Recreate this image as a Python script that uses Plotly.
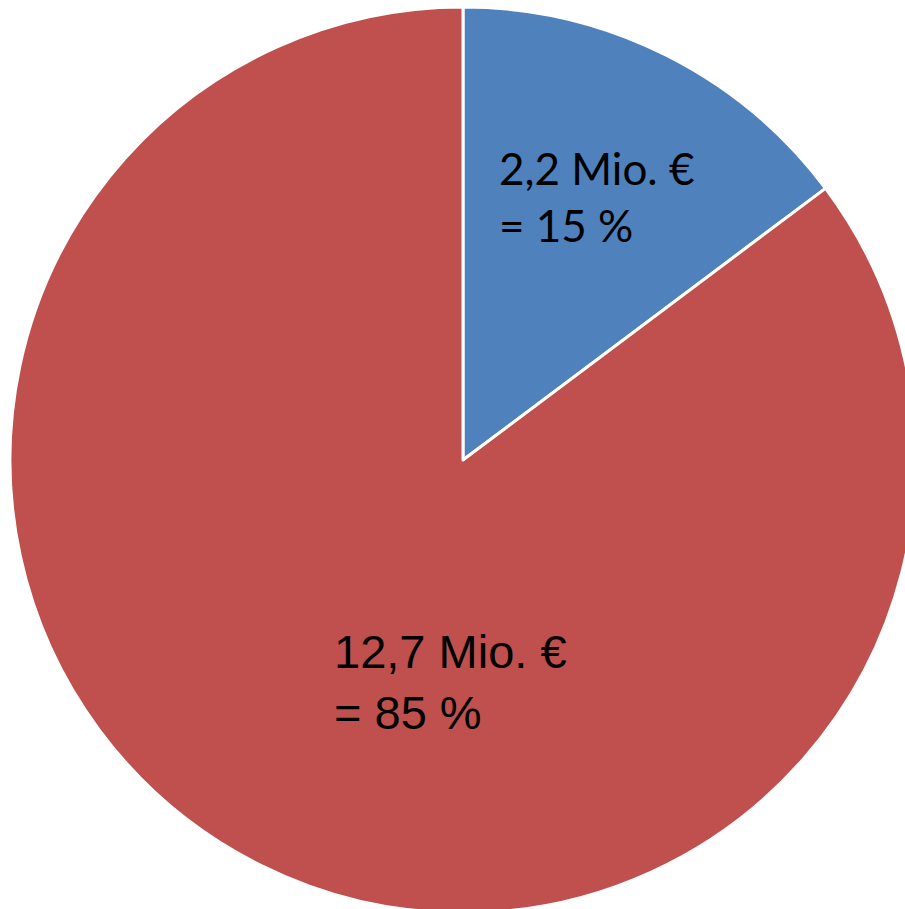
import plotly.graph_objects as go

labels = ["Anteil A", "Anteil B"]
values = [2.2, 12.7]
text_lines = [["2,2 Mio. €", "= 15 %"], ["12,7 Mio. €", "= 85 %"]]
colors = ["#4F81BD", "#C0504D"]

W, H = 926, 920
cx, cy, r = 463, 460, 453

fig = go.Figure(go.Pie(
    labels=labels, values=values, sort=False, direction="clockwise", rotation=0,
    marker=dict(colors=colors, line=dict(color="white", width=3)),
    textinfo="none", hoverinfo="label+value", showlegend=False,
    domain=dict(x=[(cx - r) / W, (cx + r) / W], y=[1 - (cy + r) / H, 1 - (cy - r) / H]),
))

fig.add_annotation(x=497 / W, y=1 - 196 / H, xref="paper", yref="paper", xanchor="left", yanchor="middle",
                   align="left", showarrow=False, text="<br>".join(text_lines[0]),
                   font=dict(family="Lato, Carlito, sans-serif", size=44, color="black"))
fig.add_annotation(x=332 / W, y=1 - 682 / H, xref="paper", yref="paper", xanchor="left", yanchor="middle",
                   align="left", showarrow=False, text="<br>".join(text_lines[1]),
                   font=dict(family="Liberation Sans, Arial, sans-serif", size=47, color="black"))

fig.update_layout(width=W, height=H, margin=dict(l=0, r=0, t=0, b=0),
                  paper_bgcolor="white", plot_bgcolor="white")
fig.write_html("out.html", config={"displayModeBar": False},
               post_script="document.documentElement.style.overflow='hidden';"
                           "document.body.style.margin='0';document.body.style.overflow='hidden';")
